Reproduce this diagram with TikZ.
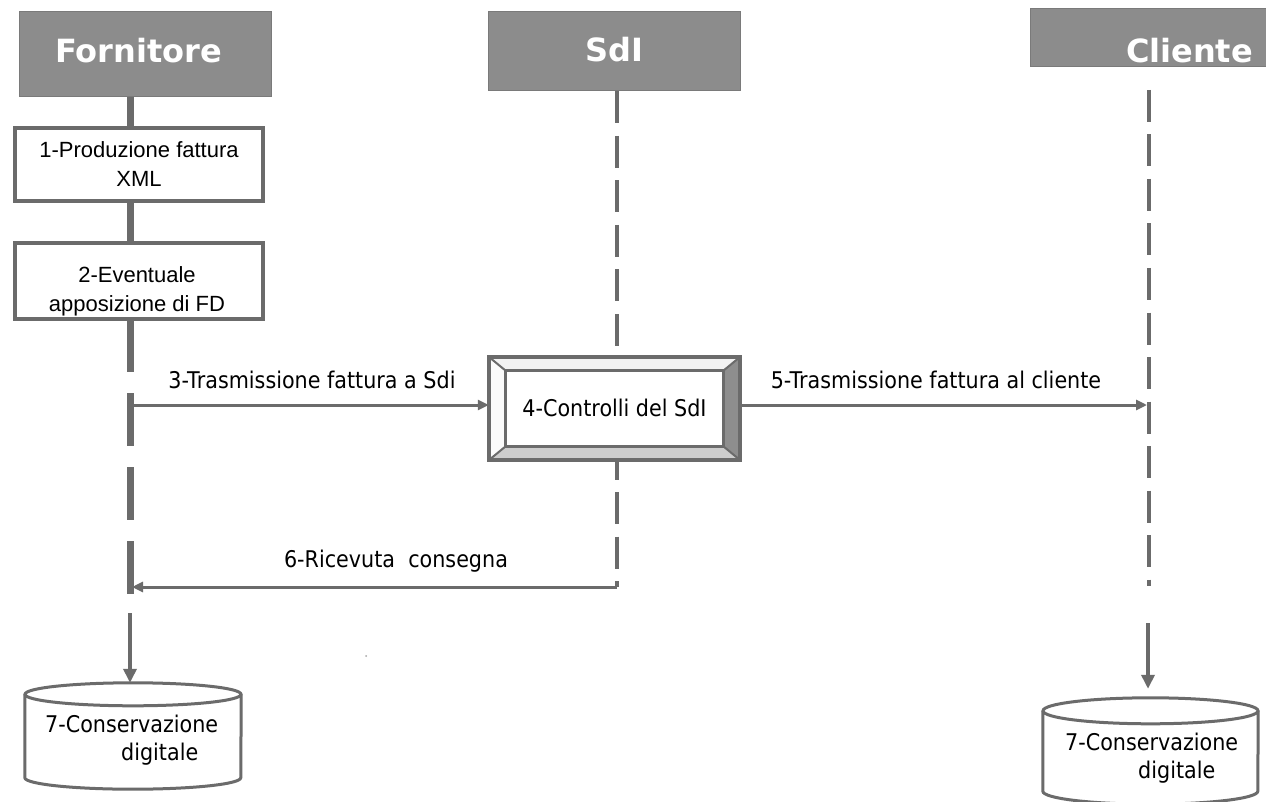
\documentclass[tikz,border=0pt]{standalone}
\usepackage{fontspec}
\setmainfont{Liberation Sans}
\newfontfamily\hdrfont{DejaVu Sans}
\newfontfamily\tahfont[FakeStretch=0.9]{DejaVu Sans}
\newfontfamily\arialfont{Liberation Sans}
\usetikzlibrary{arrows.meta}
\definecolor{hdrgray}{HTML}{8C8C8C}
\definecolor{hdredge}{HTML}{7A7A7A}
\definecolor{linegray}{HTML}{6B6B6B}
\definecolor{bevdark}{HTML}{8E8E8E}
\definecolor{bevlight}{HTML}{CDCDCD}
\definecolor{bevtop}{HTML}{F2F2F2}
\definecolor{bevleft}{HTML}{FBFBFB}
\begin{document}
\begin{tikzpicture}[x=1pt,y=-1pt,
  header/.style={fill=hdrgray, draw=hdredge, line width=1pt, inner sep=0pt, minimum width=252pt},
  hdrtext/.style={text=white, font=\hdrfont\bfseries\fontsize{32}{38}\selectfont, inner sep=0pt},
  procbox/.style={draw=linegray, line width=4pt, fill=white, minimum width=248pt, inner sep=0pt, align=center, font=\arialfont\fontsize{22}{29}\selectfont},
  msg/.style={font=\tahfont\fontsize{23}{28}\selectfont, inner sep=0pt},
  lifethick/.style={draw=linegray, line width=7pt},
  lifethin/.style={draw=linegray, line width=4.5pt, dash pattern=on 32pt off 12.5pt},
  arr/.style={draw=linegray, line width=3pt, -{Triangle[length=11pt,width=10pt]}},
  varr/.style={draw=linegray, line width=3.5pt, -{Triangle[length=14pt,width=13pt]}},
  cyl/.style={draw=linegray, line width=3pt},
  cylbox/.style={draw=none, inner sep=0pt, minimum width=216pt, minimum height=106pt},
]
\useasboundingbox[fill=white] (0,0) rectangle (1266,802);

% x positions of lifelines
\coordinate (fx) at (130,0);
\coordinate (sx) at (617,0);
\coordinate (cx) at (1149,0);

% headers
\node[header, minimum height=85pt, label={[hdrtext, xshift=-6.5pt, yshift=4.2pt]center:Fornitore}] (forn) at (145,54.5) {};
\node[header, minimum height=79pt, label={[hdrtext, yshift=1.7pt]center:SdI}] (sdi) at (614,51.5) {};
\node[header, minimum width=240pt, minimum height=58pt, label={[hdrtext, xshift=39.5pt, yshift=-12.8pt]center:Cliente}] (cli) at (1150,38) {};

% lifelines
\draw[lifethick] (forn.south -| fx) -- (fx |- 0,128);
\draw[lifethick] (fx |- 0,201) -- (fx |- 0,243);
\coordinate (fEnd) at (130,595);
\draw[lifethick, dash pattern=on 53pt off 21pt] (fx |- 0,319) -- (fEnd);
\coordinate (sEnd) at (617,586);
\draw[lifethin] (sdi.south -| sx) -- (sEnd);
\coordinate (cTop) at (1149,90);
\coordinate (cEnd) at (1149,586);
\draw[lifethin] (cTop) -- (cEnd);

% process boxes
\node[procbox, minimum height=73pt] (b1) at (139,164.5) {1-Produzione fattura\\XML};
\node[procbox, minimum height=76pt, label={[align=center, font=\arialfont\fontsize{22}{29}\selectfont, inner sep=0pt, xshift=-2pt, yshift=-10pt]center:{2-Eventuale\\apposizione di FD}}] (b2) at (139,281) {};

% SdI control box (bevelled)
\node[draw=none, minimum width=251pt, minimum height=103pt, inner sep=0pt] (box4) at (614.5,408.5) {};
\coordinate (iNW) at ([xshift=17pt,yshift=-14pt]box4.north west);
\coordinate (iNE) at ([xshift=-17pt,yshift=-14pt]box4.north east);
\coordinate (iSW) at ([xshift=17pt,yshift=14pt]box4.south west);
\coordinate (iSE) at ([xshift=-17pt,yshift=14pt]box4.south east);
\fill[white] (box4.north west) rectangle (box4.south east);
\fill[bevtop] (box4.north west) -- (box4.north east) -- (iNE) -- (iNW) -- cycle;
\fill[bevleft] (box4.north west) -- (iNW) -- (iSW) -- (box4.south west) -- cycle;
\fill[bevdark] (box4.north east) -- (box4.south east) -- (iSE) -- (iNE) -- cycle;
\fill[bevlight] (box4.south west) -- (box4.south east) -- (iSE) -- (iSW) -- cycle;
\draw[linegray, line width=2pt] (box4.north west) -- (iNW) (box4.north east) -- (iNE)
  (box4.south west) -- (iSW) (box4.south east) -- (iSE);
\draw[linegray, line width=3pt] (iNW) rectangle (iSE);
\draw[linegray, line width=3.5pt] (box4.north west) rectangle (box4.south east);
\node[msg] (t4) at (614.5,408) {4-Controlli del SdI};

% messages
\coordinate (f3) at (130,405);
\draw[arr] (f3) -- (f3 -| box4.west);
\node[msg] (l3) at (312,380) {3-Trasmissione fattura a Sdi};
\coordinate (c5) at (1147,405);
\draw[arr] (box4.east |- c5) -- (c5);
\node[msg] (l5) at (936,380) {5-Trasmissione fattura al cliente};
\coordinate (s6) at (617,587);
\coordinate (f6) at (132,587);
\draw[linegray, line width=3pt] (sEnd) -- (s6);
\draw[arr] (s6) -- (f6);
\node[msg] (l6) at (396,561) {6-Ricevuta\ \ consegna};

% storage cylinders
\node[cylbox] (c1) at (133,736) {};
\node[cylbox, minimum width=215pt] (c2) at (1150.5,751) {};
\draw[cyl] ([yshift=-11.5pt]c1.north west) -- ([yshift=11.5pt]c1.south west)
  arc[start angle=180, end angle=360, x radius=108pt, y radius=11.5pt] -- ([yshift=-11.5pt]c1.north east);
\draw[cyl] ([yshift=-11.5pt]c1.north) ellipse[x radius=108pt, y radius=11.5pt];
\draw[cyl] ([yshift=-13pt]c2.north west) -- ([yshift=13pt]c2.south west)
  arc[start angle=180, end angle=360, x radius=107.5pt, y radius=13pt] -- ([yshift=-13pt]c2.north east);
\draw[cyl] ([yshift=-13pt]c2.north) ellipse[x radius=107.5pt, y radius=13pt];
\node[msg, align=left, anchor=west] (t7a) at (45,740) {7-Conservazione\\\hspace*{76pt}digitale};
\node[msg, align=left, anchor=west] (t7b) at (1065,758) {7-Conservazione\\\hspace*{73pt}digitale};

\coordinate (f7) at (130,613);
\draw[varr] (f7) -- (fx |- c1.north);
\coordinate (c7) at (1148,623);
\draw[varr, shorten >=9pt] (c7) -- (c7 |- c2.north);

% stray dot
\fill[gray!70] (366,656) circle[radius=1pt];
\end{tikzpicture}
\end{document}
